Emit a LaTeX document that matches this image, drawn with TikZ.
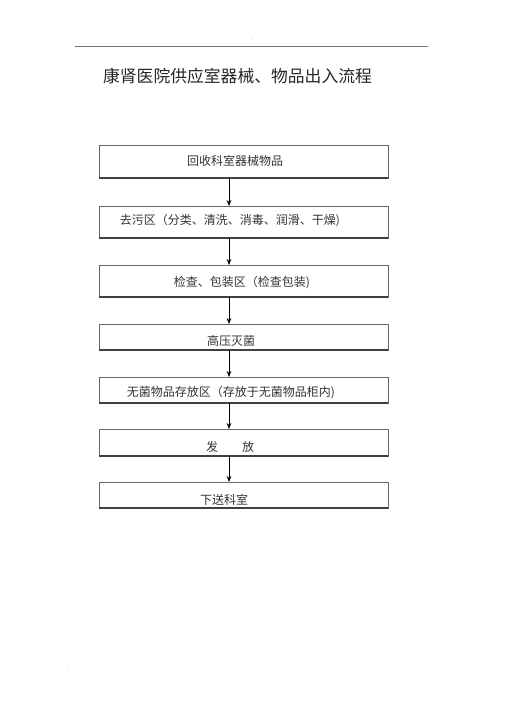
\documentclass[tikz,border=0pt]{standalone}
\usepackage{fontspec}
\setmainfont{Noto Sans CJK SC}
\usetikzlibrary{arrows.meta}

\tikzset{
  box/.style={draw=black!60, line width=0.5pt, inner sep=0pt, outer sep=0pt,
    minimum width=289*0.75pt},
  boxtext/.style={text=black!80, inner sep=0pt, font=\fontsize{9}{10}\selectfont},
  arr/.style={-{Stealth[length=4.5pt,width=3.5pt]}, line width=0.6pt},
}

\begin{document}
\begin{tikzpicture}[x=0.75pt, y=-0.75pt]
  \useasboundingbox (0,0) rectangle (505,714);

  % page header
  \draw [black!55, line width=0.6pt] (75,46.5) -- (428,46.5);
  \node (dottop) [black!40, inner sep=0pt, font=\tiny] at (252,40) {.};
  \node (dotbot) [black!40, inner sep=0pt, font=\tiny] at (68,668) {.};
  \node (title) [text=black!85, inner sep=0pt, font=\fontsize{12.6}{14}\selectfont]
    at (237.5,76) {康肾医院供应室器械、物品出入流程};

  % boxes
  \node (b1) [box, minimum height=33*0.75pt] at (243.5,161.5) {};
  \node (b2) [box, minimum height=32*0.75pt] at (243.5,222) {};
  \node (b3) [box, minimum height=32*0.75pt] at (243.5,281) {};
  \node (b4) [box, minimum height=26*0.75pt] at (243.5,337) {};
  \node (b5) [box, minimum height=26*0.75pt] at (243.5,390) {};
  \node (b6) [box, minimum height=27*0.75pt] at (243.5,442.5) {};
  \node (b7) [box, minimum height=26*0.75pt] at (243.5,495) {};
  \foreach \b in {b1,b2,b3,b4,b5,b6,b7}
    \draw [black!75, line width=0.9pt] (\b.south west) -- (\b.south east);

  % texts
  \node (t1) [boxtext] at (235,161) {回收科室器械物品};
  \node (t2) [boxtext] at (230,221) {去污区（分类、清洗、消毒、润滑、干燥)};
  \node (t3) [boxtext] at (242,283) {检查、包装区（检查包装)};
  \node (t4) [boxtext] at (231,341) {高压灭菌};
  \node (t5) [boxtext] at (231,393) {无菌物品存放区（存放于无菌物品柜内)};
  \node (t6) [boxtext] at (230,447) {发\hspace{2em}放};
  \node (t7) [boxtext] at (224,500) {下送科室};

  % arrows
  \coordinate (ax) at (229,0);
  \foreach \a/\b in {b1/b2,b2/b3,b3/b4,b4/b5,b5/b6,b6/b7}
    \draw [arr] (\a.south -| ax) -- (\b.north -| ax);
\end{tikzpicture}
\end{document}
